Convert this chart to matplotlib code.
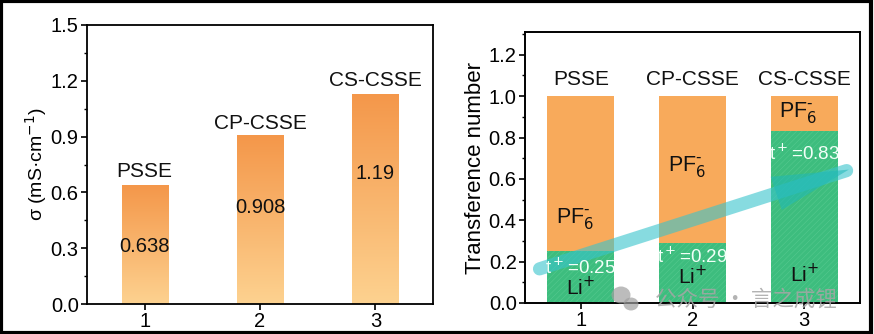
import numpy as np
import matplotlib
matplotlib.use("Agg")
import matplotlib.pyplot as plt
from matplotlib.patches import Rectangle, Polygon, Ellipse
from matplotlib.colors import LinearSegmentedColormap
from matplotlib.ticker import MultipleLocator

plt.rcParams['font.family'] = ['Liberation Sans', 'DejaVu Sans']
plt.rcParams['hatch.linewidth'] = 0.4

# ---- data ----
samples = ["PSSE", "CP-CSSE", "CS-CSSE"]
positions = [1, 2, 3]
conductivity = [0.638, 0.908, 1.13]
conductivity_labels = ["0.638", "0.908", "1.19"]
li_transference = [0.25, 0.29, 0.83]
total_transference = [1.0, 1.0, 1.0]
t_labels = ["t$^+$=0.25", "t$^+$=0.29", "t$^+$=0.83"]

fig = plt.figure(figsize=(8.74, 3.34), dpi=100)

# ---------- left panel ----------
axL = fig.add_axes([87/874, 30/334, 346/874, 279/334])
cmap = LinearSegmentedColormap.from_list("og", ["#FDD290", "#F4974A"])
grad = np.linspace(0, 1, 256).reshape(-1, 1)
bars = axL.bar(positions, conductivity, width=0.4, color="none", edgecolor="none", zorder=2)
for b in bars:
    x0, w, h = b.get_x(), b.get_width(), b.get_height()
    im = axL.imshow(grad, extent=[x0, x0 + w, 0, h], origin="lower", cmap=cmap,
                    aspect="auto", zorder=2)
    im.set_clip_path(b)
axL.set_xlim(0.5, 3.5)
axL.set_ylim(0, 1.5)
name_y = [0.71, 0.97, 1.20]
val_y = [0.31, 0.52, 0.70]
for p, n, ny, vl, vy in zip(positions, samples, name_y, conductivity_labels, val_y):
    axL.text(p, ny, n, ha="center", va="center", fontsize=15, color="#111111", zorder=3)
    axL.text(p, vy, vl, ha="center", va="center", fontsize=14.5, color="#111111", zorder=3)
axL.set_yticks([0.0, 0.3, 0.6, 0.9, 1.2, 1.5])
axL.set_yticklabels(["0.0", "0.3", "0.6", "0.9", "1.2", "1.5"])
axL.yaxis.set_minor_locator(MultipleLocator(0.15))
axL.set_xticks(positions)
axL.set_xticklabels(["1", "2", "3"])
axL.tick_params(axis="both", which="major", labelsize=14.5, direction="out", length=4,
                width=1.2, pad=2)
axL.tick_params(axis="y", which="minor", direction="out", length=2.5, width=1.0)
axL.set_ylabel("σ (mS·cm$^{-1}$)", fontsize=14, labelpad=1)
for s in axL.spines.values():
    s.set_linewidth(1.3)

# ---------- right panel ----------
axR = fig.add_axes([525/874, 31/334, 335/874, 271/334])
orange = "#F8AA5B"
green = "#3DBD7E"
anion = [t - l for t, l in zip(total_transference, li_transference)]
axR.bar(positions, li_transference, width=0.6, color=green, edgecolor="#55C98F",
        hatch="//////", linewidth=0, zorder=2)
axR.bar(positions, anion, bottom=li_transference, width=0.6, color=orange,
        edgecolor="none", zorder=2)
axR.set_xlim(0.5, 3.5)
axR.set_ylim(0, 1.31)

for p, n in zip(positions, samples):
    axR.text(p, 1.08, n, ha="center", va="center", fontsize=15, color="#111111", zorder=7)
pf_y = [0.41, 0.66, 0.92]
t_y = [0.17, 0.225, 0.72]
li_y = [0.075, 0.13, 0.14]
for p, py, ty, ly, tl in zip(positions, pf_y, t_y, li_y, t_labels):
    axR.text(p - 0.05, py, r"PF$_6^{\text{-}}$", ha="center", va="center", fontsize=15.5,
             color="#111111", zorder=7)
    axR.text(p, ty, tl, ha="center", va="center", fontsize=13.5, color="#F2FFF8", zorder=7)
    axR.text(p, ly, "Li$^{+}$", ha="center", va="center", fontsize=15,
             color="#111111", zorder=7)

# translucent arrow
arrow_col = "#38C4CC"
axR.plot([0.63, 3.38], [0.165, 0.64], color=arrow_col, lw=9.5, alpha=0.6,
         solid_capstyle="round", zorder=5)
axR.add_patch(Polygon([[2.70, 0.61], [2.80, 0.45], [3.40, 0.645]], closed=True,
                      facecolor="#1FB8B8", edgecolor="none", alpha=0.55, zorder=5))

axR.set_yticks([0.0, 0.2, 0.4, 0.6, 0.8, 1.0, 1.2])
axR.set_yticklabels(["0.0", "0.2", "0.4", "0.6", "0.8", "1.0", "1.2"])
axR.yaxis.set_minor_locator(MultipleLocator(0.1))
axR.set_xticks(positions)
axR.set_xticklabels(["1", "2", "3"])
axR.tick_params(axis="both", which="major", labelsize=14.5, direction="out", length=4,
                width=1.2, pad=2)
axR.tick_params(axis="y", which="minor", direction="out", length=2.5, width=1.0)
axR.set_ylabel("Transference number", fontsize=16, labelpad=2)
for s in axR.spines.values():
    s.set_linewidth(1.4)

# watermark
fig.text(746/874, 1 - 300/334, "公众号 · 言之成锂", ha="center", va="center",
         fontsize=15.5, color="#a6a6a6", alpha=0.85,
         family=["Noto Sans CJK SC", "DejaVu Sans"], zorder=10)
fig.patches.append(Ellipse((621/874, 1 - 295/334), 19/874, 17/334, transform=fig.transFigure,
                           facecolor="#a0a0a0", alpha=0.7, edgecolor="none", zorder=10))
fig.patches.append(Ellipse((631/874, 1 - 304/334), 15/874, 13/334, transform=fig.transFigure,
                           facecolor="#a0a0a0", alpha=0.7, edgecolor="none", zorder=10))

# figure border
fig.patches.append(Rectangle((0.001, 0.004), 0.996, 0.993, transform=fig.transFigure,
                             fill=False, edgecolor="black", linewidth=3, zorder=20))

fig.savefig("out.png", dpi=100)
